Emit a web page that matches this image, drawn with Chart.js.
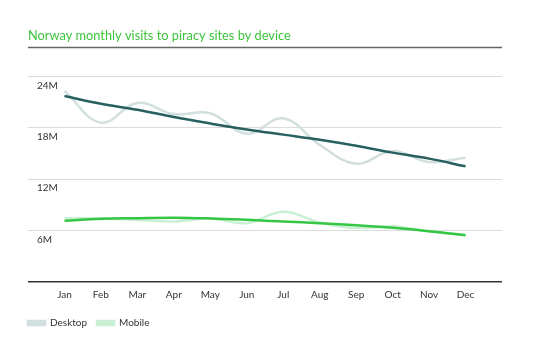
<!DOCTYPE html>
<html>
<head>
<meta charset="utf-8">
<script src="https://cdn.jsdelivr.net/npm/chart.js@4"></script>
<style>
  html, body { margin: 0; padding: 0; background: #fff; }
  #wrap { width: 553px; height: 348px; }
</style>
</head>
<body>
<div id="wrap"><canvas id="visits"></canvas></div>
<script>
// monthly visits, millions
const months = ['Jan', 'Feb', 'Mar', 'Apr', 'May', 'Jun', 'Jul', 'Aug', 'Sep', 'Oct', 'Nov', 'Dec'];
const desktop = [22.3, 18.6, 20.9, 19.6, 19.7, 17.3, 19.1, 16.0, 13.8, 15.3, 14.0, 14.5];
const desktopTrend = [21.7, 20.8, 20.1, 19.25, 18.5, 17.8, 17.2, 16.6, 15.9, 15.1, 14.4, 13.5];
const mobile = [7.45, 7.4, 7.25, 7.06, 7.4, 6.87, 8.2, 6.95, 6.3, 6.5, 5.9, 5.5];
const mobileTrend = [7.14, 7.38, 7.45, 7.5, 7.42, 7.26, 7.06, 6.87, 6.63, 6.32, 5.93, 5.46];
const yTicks = [0, 6, 12, 18, 24];

const FONT = 'Lato, "Noto Sans", sans-serif';
const pts = arr => arr.map((v, i) => ({ x: i, y: v }));

// rule under the title, spanning the plot width
const titleRule = {
  id: 'titleRule',
  afterDraw(chart) {
    const { ctx, chartArea } = chart;
    const y = 47.5;
    ctx.save();
    ctx.strokeStyle = '#666';
    ctx.lineWidth = 1.5;
    ctx.beginPath();
    ctx.moveTo(chartArea.left, y);
    ctx.lineTo(chartArea.right, y);
    ctx.stroke();
    ctx.restore();
  }
};

// pull the legend flush with the plot's left edge
const legendInset = {
  id: 'legendInset',
  beforeDraw(chart) {
    const lg = chart.legend;
    const w = lg.right - lg.left;
    lg.left = chart.chartArea.left - 10;
    lg.right = lg.left + w;
  }
};

new Chart(document.getElementById('visits'), {
  type: 'line',
  data: {
    datasets: [
      { label: 'Desktop trend', data: pts(desktopTrend), borderColor: '#285f5f', borderWidth: 2.5, tension: 0.4, order: 0 },
      { label: 'Mobile trend', data: pts(mobileTrend), borderColor: '#35c646', borderWidth: 2.5, tension: 0.4, order: 0 },
      { label: 'Desktop', data: pts(desktop), borderColor: '#d2dfdf', backgroundColor: '#d2dfdf', borderWidth: 2.5, tension: 0.4, order: 1 },
      { label: 'Mobile', data: pts(mobile), borderColor: '#c9f0d3', backgroundColor: '#c9f0d3', borderWidth: 2.5, tension: 0.4, order: 1 }
    ]
  },
  options: {
    responsive: true,
    maintainAspectRatio: false,
    animation: false,
    layout: { padding: { left: 28, right: 51, top: 28, bottom: 10 } },
    elements: { point: { radius: 0 } },
    plugins: {
      title: {
        display: true,
        text: 'Norway monthly visits to piracy sites by device',
        align: 'start',
        color: '#3cc43c',
        font: { family: FONT, size: 12.8, weight: 'normal' },
        padding: { top: 0, bottom: 33 }
      },
      legend: {
        position: 'bottom',
        align: 'start',
        labels: {
          filter: item => item.text === 'Desktop' || item.text === 'Mobile',
          boxWidth: 17,
          boxHeight: 4,
          padding: 10,
          color: '#333',
          font: { family: FONT, size: 10 }
        }
      },
      tooltip: { enabled: false }
    },
    scales: {
      x: {
        type: 'linear',
        min: -1,
        max: 12,
        afterBuildTicks: s => { s.ticks = months.map((m, i) => ({ value: i })); },
        ticks: {
          autoSkip: false,
          maxRotation: 0,
          padding: 7,
          color: '#333',
          font: { family: FONT, size: 10 },
          callback: v => months[v] ?? ''
        },
        grid: { display: false, drawTicks: false, tickLength: 0 },
        border: { display: false }
      },
      y: {
        min: 0,
        max: 24,
        afterBuildTicks: s => { s.ticks = yTicks.map(v => ({ value: v })); },
        afterFit: s => { s.width = 0; },
        ticks: {
          mirror: true,
          padding: 9,
          labelOffset: 9,
          color: '#333',
          font: { family: FONT, size: 10 },
          callback: v => v ? v + 'M' : ''
        },
        grid: {
          drawTicks: false,
          tickLength: 0,
          color: c => c.tick.value === 0 ? '#333' : '#dcdcdc',
          lineWidth: c => c.tick.value === 0 ? 1.5 : 1
        },
        border: { display: false }
      }
    }
  },
  plugins: [titleRule, legendInset]
});
</script>
</body>
</html>
